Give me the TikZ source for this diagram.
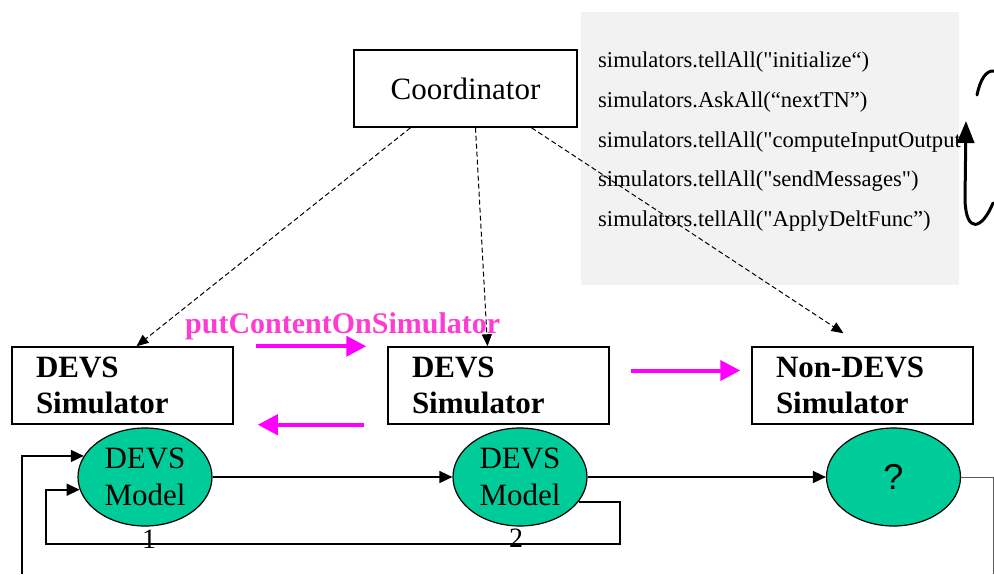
\documentclass[tikz,border=0pt]{standalone}
\usepackage{fontspec}
\setmainfont{Liberation Serif}
\newfontfamily\callfont{Liberation Serif}
\newfontfamily\qmarkfont{Liberation Sans}
\usetikzlibrary{shapes.geometric, arrows.meta, positioning, calc}

\definecolor{modelgreen}{HTML}{00CC99}
\definecolor{panelgray}{HTML}{F2F2F2}
\definecolor{putpink}{HTML}{FF3CD2}
\definecolor{arrowpink}{RGB}{255,0,255}

\begin{document}
\begin{tikzpicture}[
        x=1pt, y=-1pt,
        coordbox/.style={rectangle, draw, line width=1.5pt, minimum width=223pt, minimum height=77pt, align=center, font=\fontsize{31}{36}\selectfont},
        simbox/.style={rectangle, draw, line width=1.5pt, minimum width=221pt, minimum height=77pt, text width=173pt, inner xsep=24pt, align=left, font=\fontsize{31}{36}\selectfont\bfseries},
        model/.style={ellipse, draw, line width=1.2pt, fill=modelgreen, minimum width=134pt, minimum height=98pt, inner sep=0pt, align=center, font=\fontsize{31}{37}\selectfont},
        numlabel/.style={inner sep=0pt, font=\fontsize{28}{30}\selectfont},
        panel/.style={rectangle, fill=panelgray, minimum width=378pt, minimum height=273pt, inner sep=0pt},
        calltext/.style={inner sep=0pt, align=left, font=\callfont\fontsize{22.6}{39.7}\selectfont},
        putlabel/.style={inner sep=0pt, text=putpink, font=\fontsize{30}{32}\selectfont\bfseries},
        ctrl/.style={-{Triangle[length=12pt, width=10pt]}, dash pattern=on 5pt off 3pt, line width=1pt},
        flow/.style={-{Triangle[length=13pt, width=12pt]}, line width=1.6pt},
        pinkarrow/.style={-{Triangle[length=20pt, width=20pt]}, line width=4pt, arrowpink},
        cyclearrow/.style={-{Triangle[length=22pt, width=17pt]}, line width=3pt, line cap=round}
    ]
        \useasboundingbox (0,0) rectangle (994,574);

        % 1. Coordinator and its calls
        \node (panel) [panel] at (770,148.5) {};
        \node (calls) [calltext, anchor=north west] at (598,52) {simulators.tellAll("initialize“)\\
            simulators.AskAll(“nextTN”)\\
            simulators.tellAll("computeInputOutput\\
            simulators.tellAll("sendMessages")\\
            simulators.tellAll("ApplyDeltFunc”)};
        \node (coord) [coordbox] at (465.5,88.5) {Coordinator};

        % 2. Simulator layer
        \node (sim1) [simbox] at (122.5,385.5) {DEVS\\ Simulator};
        \node (sim2) [simbox] at (498.5,385.5) {DEVS\\ Simulator};
        \node (sim3) [simbox] at (862.5,385.5) {Non-DEVS\\ Simulator};
        \node (putlbl) [putlabel, anchor=base west] at (185,333) {putContentOnSimulator};

        % 3. Model layer
        \node (e1) [model] at (145,477) {DEVS\\ Model};
        \node (e2) [model] at (520,477) {DEVS\\ Model};
        \node (e3) [model, font=\qmarkfont\fontsize{36}{40}\selectfont] at (893.5,477) {?};
        \node (n1) [numlabel, below=3pt of e1, xshift=4pt] {1};
        \node (n2) [numlabel, below=2pt of e2, xshift=-4pt] {2};

        % loop corners
        \coordinate (loopR) at (620,544);
        \coordinate (loopL) at (46,544);
        \coordinate (outL) at (22,574);
        \coordinate (outR) at (993,574);
        \coordinate (cycstart) at (993,203);
        \coordinate (cycend) at (966,121);
        \coordinate (cyctopA) at (977,95);
        \coordinate (cyctopB) at (994,71);

        % Connections
        \draw [ctrl] ([xshift=-55pt]coord.south) -- ([xshift=14pt]sim1.north);
        \draw [ctrl] ([xshift=10pt]coord.south) -- ([xshift=-11pt]sim2.north);
        \draw [ctrl] ([xshift=66pt]coord.south) -- ([shift={(-19pt,13pt)}]sim3.north);

        \draw [pinkarrow] ([xshift=22pt]sim1.north east) -- ([xshift=-21pt]sim2.north west);
        \draw [pinkarrow] ([xshift=-23pt]sim2.south west) -- ([xshift=24pt]sim1.south east);
        \draw [pinkarrow] ([shift={(21pt,15pt)}]sim2.east) -- ([shift={(-11pt,15pt)}]sim3.west);

        \draw [flow] (e1) -- (e2);
        \draw [flow] (e2) -- (e3);
        \draw [flow] (e2.337) -| (loopR) -- (loopL) |- (e1.191);
        \draw [flow] (outL) |- (e1.161);
        \draw [line width=1pt, gray!70!black] (e3.east) -| (outR);

        \draw [cyclearrow] (cycstart) .. controls (982,230) and (966,234) .. (965,200) -- (cycend);
        \draw [line width=3pt, line cap=round] (cyctopA) .. controls (980,80) and (986,70) .. (cyctopB);

    \end{tikzpicture}
\end{document}
